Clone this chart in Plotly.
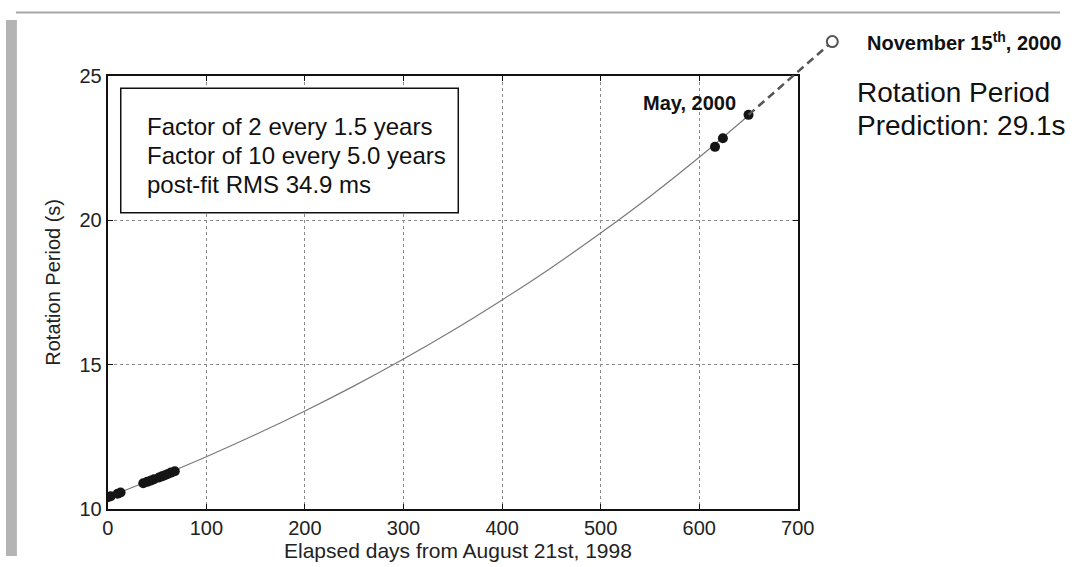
import plotly.graph_objects as go

# ---- data ----
fit_days = [0, 50, 100, 150, 200, 250, 300, 350, 400, 450, 500, 550, 600, 650]
fit_period = [10.4, 11.08, 11.8, 12.57, 13.39, 14.26, 15.19, 16.18, 17.24, 18.36, 19.56, 20.83, 22.19, 23.64]

obs_days = [0, 3, 10, 13, 36, 40, 44, 47, 52, 55, 58, 61, 64, 68, 616, 624, 650]
obs_period = [10.4, 10.43, 10.52, 10.56, 10.88, 10.93, 10.98, 11.02, 11.08, 11.12,
              11.16, 11.2, 11.25, 11.3, 22.55, 22.85, 23.66]

ext_days = [650, 735]
ext_period = [23.66, 26.2]
pred_days = [735]
pred_period = [26.2]

x_ticks = [0, 100, 200, 300, 400, 500, 600, 700]
y_ticks = [10, 15, 20, 25]

box_lines = ["Factor of 2 every 1.5 years", "Factor of 10 every 5.0 years", "post-fit RMS 34.9 ms"]

# ---- layout geometry ----
W, H = 1077, 567
# target positions (pixels in the reference picture)
L, R, T, B = 107, 798, 76, 507
X0, X1, Y0, Y1 = 0, 700, 10, 25
# observed mapping between figure pixels and the captured picture
SX, OX, SY, OY = 0.98, 5.1, 0.958, 11.0


def fx(xr):
    return (xr - OX) / SX


def fy(yr):
    return (yr - OY) / SY


def px(xr):
    return fx(xr) / W


def py(yr):
    return 1 - fy(yr) / H


FONT = "Liberation Sans, Arial, sans-serif"

fig = go.Figure()

fig.add_trace(go.Scatter(x=fit_days, y=fit_period, mode="lines",
                         line=dict(color="#7a7a7a", width=1.2, shape="spline", smoothing=1.0),
                         hoverinfo="skip", showlegend=False))
fig.add_trace(go.Scatter(x=obs_days, y=obs_period, mode="markers",
                         marker=dict(color="#151515", size=10), showlegend=False))

# overlay axes covering the whole figure with identical scale (for the out-of-box prediction)
sx = (X1 - X0) / (fx(R) - fx(L))
sy = (Y1 - Y0) / (fy(B) - fy(T))
x2_range = [X0 - fx(L) * sx, X0 + (W - fx(L)) * sx]
y2_range = [Y0 - (H - fy(B)) * sy, Y0 + fy(B) * sy]

fig.add_trace(go.Scatter(x=ext_days, y=ext_period, mode="lines", xaxis="x2", yaxis="y2",
                         line=dict(color="#555555", width=2.5, dash="8px,5px"), showlegend=False))
fig.add_trace(go.Scatter(x=pred_days, y=pred_period, mode="markers", xaxis="x2", yaxis="y2",
                         marker=dict(color="white", size=11, line=dict(color="#555555", width=2)),
                         showlegend=False))

axis_common = dict(showline=True, linecolor="#111", linewidth=2, mirror="ticks", ticks="inside",
                   ticklen=5, tickcolor="#111", showgrid=True, gridcolor="#8a8a8a", griddash="dot",
                   gridwidth=1, zeroline=False, tickfont=dict(family=FONT, size=20, color="#222"))

fig.update_layout(
    width=W, height=H, margin=dict(l=0, r=0, t=0, b=0),
    paper_bgcolor="white", plot_bgcolor="rgba(0,0,0,0)",
    xaxis=dict(domain=[px(L), px(R)], range=[X0, X1], tickvals=x_ticks, **axis_common),
    yaxis=dict(domain=[py(B), py(T)], range=[Y0, Y1], tickvals=y_ticks, **axis_common),
    xaxis2=dict(domain=[0, 1], range=x2_range, visible=False, anchor="y2"),
    yaxis2=dict(domain=[0, 1], range=y2_range, visible=False, anchor="x2"),
)

shapes = [
    # grey outer frame pieces
    dict(type="rect", xref="paper", yref="paper", x0=0, x1=px(16), y0=0, y1=py(20),
         fillcolor="#b4b4b4", line=dict(width=0)),
    dict(type="line", xref="paper", yref="paper", x0=px(15), x1=1, y0=1 - 1.5 / H, y1=1 - 1.5 / H,
         line=dict(color="#a8a8a8", width=2)),
    # text box
    dict(type="rect", xref="paper", yref="paper", x0=px(120), x1=px(458), y0=py(212), y1=py(88),
         fillcolor="white", line=dict(color="#111", width=1.5)),
]
fig.update_layout(shapes=shapes)

ann = []
for i, t in enumerate(box_lines):
    ann.append(dict(text=t, xref="paper", yref="paper", x=px(144), y=py(126 + 29 * i),
                    xanchor="left", yanchor="middle", showarrow=False,
                    font=dict(family=FONT, size=24, color="#111")))
ann += [
    dict(text="Rotation Period (s)", xref="paper", yref="paper", x=px(52), y=py(281), textangle=-90,
         xanchor="center", yanchor="middle", showarrow=False, font=dict(family=FONT, size=20, color="#222")),
    dict(text="Elapsed days from August 21st, 1998", xref="paper", yref="paper", x=px(458), y=py(549),
         xanchor="center", yanchor="middle", showarrow=False, font=dict(family=FONT, size=21, color="#222")),
    dict(text="<b>May, 2000</b>", xref="paper", yref="paper", x=px(641), y=py(103),
         xanchor="left", yanchor="middle", showarrow=False, font=dict(family=FONT, size=20, color="#111")),
    dict(text="<b>November 15<sup>th</sup>, 2000</b>", xref="paper", yref="paper", x=px(865), y=py(41),
         xanchor="left", yanchor="middle", showarrow=False, font=dict(family=FONT, size=20, color="#111")),
    dict(text="Rotation Period", xref="paper", yref="paper", x=px(855), y=py(92),
         xanchor="left", yanchor="middle", showarrow=False, font=dict(family=FONT, size=28, color="#111")),
    dict(text="Prediction: 29.1s", xref="paper", yref="paper", x=px(855), y=py(125),
         xanchor="left", yanchor="middle", showarrow=False, font=dict(family=FONT, size=28, color="#111")),
]
fig.update_layout(annotations=ann)

fig.write_html("out.html")
